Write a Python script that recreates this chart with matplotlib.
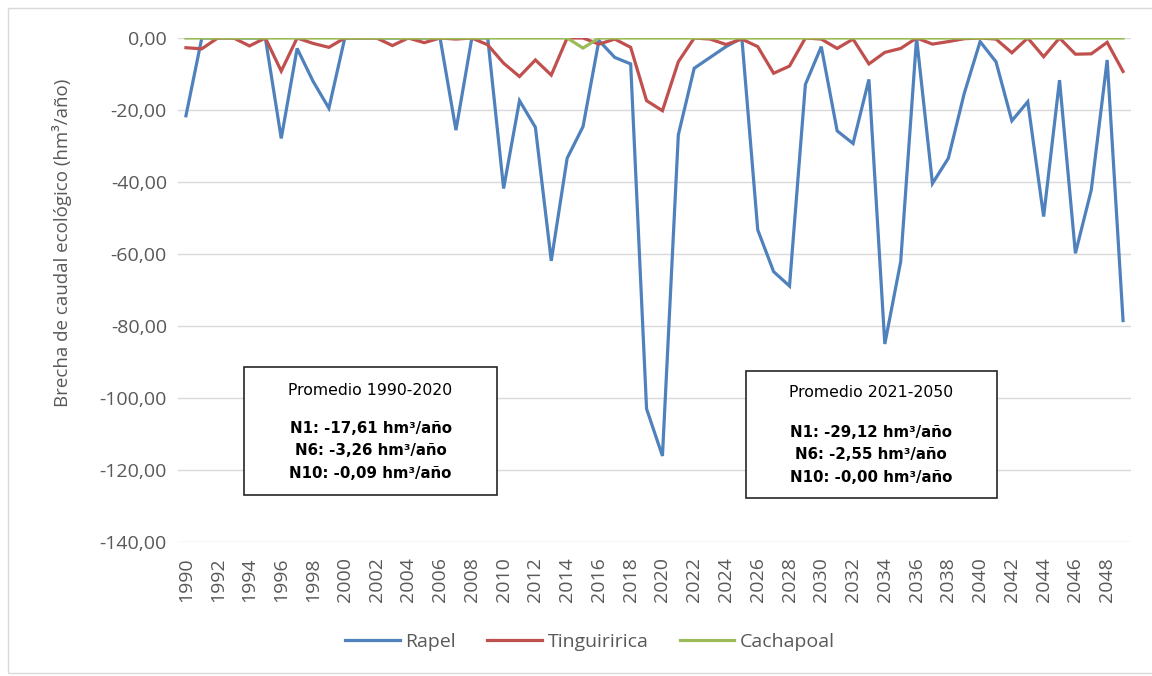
import matplotlib
matplotlib.use("Agg")
import matplotlib.pyplot as plt
from matplotlib.patches import Rectangle
from matplotlib.ticker import FuncFormatter


years = list(range(1990, 2050))

# brecha de caudal ecologico (hm3/año)
rapel = [-21.6, 0, 0, 0, 0, 0, -27.9, -2.9, -12.0, -19.5,
         0, 0, 0, 0, 0, 0, 0, -25.6, 0, 0,
         -41.8, -17.4, -24.8, -61.9, -33.4, -24.6, -0.7, -5.4, -7.2, -103.0,
         -116.1, -26.9, -8.4, -5.4, -2.4, 0, -53.3, -64.9, -68.9, -12.9,
         -2.4, -25.8, -29.3, -11.5, -85.0, -62.1, 0, -40.4, -33.4, -15.4,
         -1.0, -6.6, -23.0, -17.7, -49.6, -11.7, -59.8, -42.2, -6.1, -78.5]

tinguiririca = [-2.7, -3.0, 0, 0, -2.2, 0, -9.2, 0, -1.5, -2.6,
                0, 0, 0, -2.1, 0, -1.3, 0, -0.3, 0, -1.9,
                -7.0, -10.7, -6.1, -10.3, 0, 0, -1.7, -0.3, -2.6, -17.4,
                -20.2, -6.6, 0, -0.3, -1.8, -0.3, -2.4, -9.8, -7.8, 0,
                -0.3, -2.9, -0.3, -7.2, -4.0, -2.9, 0, -1.7, -1.0, -0.2,
                0, -0.3, -4.1, 0, -5.2, 0, -4.5, -4.4, -1.2, -9.3]

cachapoal = [0] * 60
cachapoal[years.index(2015)] = -2.8

series = [("Rapel", rapel, "#4f81bd"),
          ("Tinguiririca", tinguiririca, "#c0504d"),
          ("Cachapoal", cachapoal, "#9bbb59")]

box1_lines = ["Promedio 1990-2020",
              "N1: -17,61 hm³/año", "N6: -3,26 hm³/año", "N10: -0,09 hm³/año"]
box2_lines = ["Promedio 2021-2050",
              "N1: -29,12 hm³/año", "N6: -2,55 hm³/año", "N10: -0,00 hm³/año"]

gray_txt = "#595959"

fig = plt.figure(figsize=(11.52, 6.76), dpi=100)
ax = fig.add_axes([178 / 1152, 1 - 542 / 676, 953 / 1152, 504 / 676])

x = list(range(len(years)))
for name, vals, col in series:
    ax.plot(x, vals, color=col, lw=2.3, label=name, solid_joinstyle="miter")

ax.set_xlim(-0.5, len(years) - 0.5)
ax.set_ylim(-140, 0)
ax.set_yticks(range(-140, 1, 20))
ax.yaxis.set_major_formatter(FuncFormatter(
    lambda v, p: ("%.2f" % v).replace(".", ",") if v != 0 else "0,00"))
ax.set_xticks(x[::2])
ax.set_xticklabels([str(y) for y in years[::2]], rotation=90)
ax.grid(axis="y", color="#d9d9d9", lw=1)
ax.set_axisbelow(True)
for s in ax.spines.values():
    s.set_visible(False)
ax.tick_params(length=0, labelsize=14, labelcolor=gray_txt)
ax.tick_params(axis="x", pad=11)
ax.tick_params(axis="y", pad=8)
for lab in ax.get_xticklabels() + ax.get_yticklabels():
    lab.set_fontfamily("Open Sans")

fig.text(62 / 1152, 1 - 243 / 676, "Brecha de caudal ecológico (hm³/año)",
         rotation=90, ha="center", va="center", fontsize=13.5,
         color=gray_txt, family="Open Sans")

# cuadros de promedios
for lines, (x0, x1, yb, yt), ys in [
        (box1_lines, (0.069, 0.335, 0.093, 0.347), [0.300, 0.226, 0.181, 0.135]),
        (box2_lines, (0.596, 0.859, 0.087, 0.339), [0.297, 0.218, 0.173, 0.128])]:
    ax.add_patch(Rectangle((x0, yb), x1 - x0, yt - yb, transform=ax.transAxes,
                           facecolor="white", edgecolor="#262626", lw=1.2,
                           zorder=5))
    xc = (x0 + x1) / 2
    for i, (t, yy) in enumerate(zip(lines, ys)):
        ax.text(xc, yy, t, transform=ax.transAxes, ha="center", va="center",
                fontsize=11.3 if i == 0 else 10.8, color="black",
                family="DejaVu Sans",
                fontweight="normal" if i == 0 else "bold", zorder=6)

leg = fig.legend(loc="center", bbox_to_anchor=(590 / 1152, 1 - 642 / 676),
                 ncol=3, frameon=False, handlelength=2.8, handletextpad=0.3,
                 columnspacing=1.6, prop={"family": "Open Sans", "size": 14})
for t in leg.get_texts():
    t.set_color(gray_txt)

# borde exterior del grafico
fig.add_artist(Rectangle((8 / 1152, 0.004), 1.2, 1 - 8 / 676 - 0.004,
                         transform=fig.transFigure, fill=False,
                         edgecolor="#d9d9d9", lw=1))

fig.savefig("out.png", dpi=100, facecolor="white")
